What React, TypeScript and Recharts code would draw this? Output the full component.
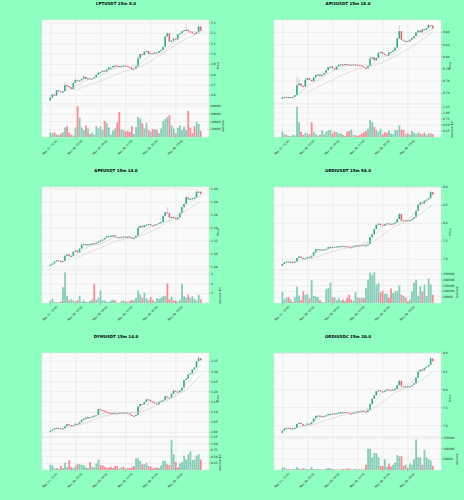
import { Bar, CartesianGrid, Cell, ComposedChart, Line, XAxis, YAxis } from 'recharts';

const tickIdx = [0, 12, 24, 36, 48, 60];
const tickLabels = ['May 27, 22:00', 'May 28, 01:00', 'May 28, 04:00', 'May 28, 07:00', 'May 28, 10:00', 'May 28, 13:00'];
const fastAt = [6, 12, 18, 24, 30, 36, 42, 48, 54, 60, 66, 72];
const slowAt = [12, 18, 24, 30, 36, 42, 48, 54, 60, 66, 72];

const lptClose = [
  4.58, 4.61, 4.60, 4.65, 4.64, 4.63, 4.64, 4.70, 4.69, 4.68, 4.66, 4.72,
  4.75, 4.74, 4.745, 4.76, 4.78, 4.76, 4.765, 4.76, 4.765, 4.775, 4.80, 4.82,
  4.825, 4.84, 4.83, 4.85, 4.87, 4.87, 4.885, 4.89, 4.885, 4.875, 4.885, 4.89,
  4.885, 4.875, 4.87, 4.85, 4.86, 4.88, 4.96, 5.00, 4.99, 5.02, 5.03, 5.00,
  5.01, 5.00, 5.015, 5.01, 5.03, 5.04, 5.07, 5.17, 5.20, 5.12, 5.13, 5.15,
  5.14, 5.19, 5.20, 5.22, 5.23, 5.235, 5.22, 5.215, 5.20, 5.195, 5.21, 5.265, 5.225,
];
const lptVol = [
  12, 10, 12, 7, 5, 9, 12, 25, 28, 12, 6, 4,
  25, 80, 50, 25, 18, 30, 22, 8, 12, 6, 28, 22,
  28, 18, 42, 36, 25, 6, 17, 22, 38, 65, 20, 18,
  15, 16, 13, 28, 8, 26, 52, 48, 36, 22, 36, 18,
  14, 20, 20, 18, 10, 22, 42, 47, 52, 57, 30, 22,
  10, 24, 30, 18, 27, 18, 68, 24, 10, 28, 40, 34, 16,
];
const lptFast = [4.63, 4.69, 4.75, 4.79, 4.86, 4.88, 4.89, 5.00, 5.02, 5.14, 5.21, 5.22];
const lptSlow = [4.65, 4.70, 4.74, 4.79, 4.84, 4.87, 4.93, 5.01, 5.09, 5.16, 5.21];
const lptWicks: [number, number][] = [[7, 4.73], [12, 4.77], [16, 4.80], [42, 4.98], [45, 5.05], [56, 5.21], [65, 5.29], [71, 5.28]];

const apiClose = [
  0.733, 0.734, 0.7335, 0.734, 0.7335, 0.734, 0.737, 0.753, 0.756, 0.752, 0.751, 0.762,
  0.765, 0.762, 0.760, 0.766, 0.770, 0.771, 0.768, 0.770, 0.773, 0.778, 0.783, 0.784,
  0.781, 0.779, 0.784, 0.787, 0.7875, 0.786, 0.788, 0.7875, 0.786, 0.787, 0.7875, 0.787,
  0.7865, 0.786, 0.784, 0.782, 0.781, 0.785, 0.797, 0.799, 0.794, 0.798, 0.806, 0.808,
  0.805, 0.803, 0.802, 0.807, 0.808, 0.810, 0.815, 0.830, 0.842, 0.828, 0.826, 0.826,
  0.825, 0.828, 0.831, 0.834, 0.840, 0.843, 0.840, 0.845, 0.844, 0.847, 0.852, 0.851, 0.846,
];
const apiVol = [
  0.22, 0.12, 0.08, 0.05, 0.03, 0.10, 0.06, 1.27, 0.62, 0.22, 0.08, 0.18,
  0.15, 0.12, 0.62, 0.20, 0.12, 0.06, 0.10, 0.28, 0.12, 0.22, 0.28, 0.30,
  0.15, 0.22, 0.20, 0.15, 0.15, 0.08, 0.05, 0.22, 0.25, 0.32, 0.10, 0.08,
  0.04, 0.08, 0.15, 0.20, 0.25, 0.35, 0.72, 0.62, 0.42, 0.30, 0.22, 0.35,
  0.12, 0.20, 0.18, 0.28, 0.15, 0.12, 0.30, 0.28, 0.48, 0.32, 0.30, 0.12,
  0.18, 0.10, 0.25, 0.18, 0.12, 0.20, 0.15, 0.12, 0.18, 0.10, 0.15, 0.16, 0.12,
];
const apiFast = [0.734, 0.752, 0.764, 0.776, 0.785, 0.787, 0.786, 0.800, 0.806, 0.826, 0.834, 0.846];
const apiSlow = [0.742, 0.752, 0.762, 0.772, 0.780, 0.784, 0.791, 0.801, 0.812, 0.826, 0.841];
const apiWicks: [number, number][] = [[7, 0.768], [8, 0.765], [11, 0.766], [42, 0.801], [46, 0.809], [56, 0.852], [57, 0.836], [70, 0.854]];

const apeClose = [
  1.283, 1.285, 1.288, 1.290, 1.289, 1.287, 1.289, 1.297, 1.299, 1.296, 1.297, 1.303,
  1.305, 1.302, 1.308, 1.314, 1.315, 1.314, 1.3145, 1.315, 1.316, 1.3155, 1.317, 1.319,
  1.3205, 1.322, 1.3245, 1.327, 1.3275, 1.328, 1.3285, 1.326, 1.3245, 1.3255, 1.326, 1.3265,
  1.326, 1.3265, 1.325, 1.324, 1.3245, 1.328, 1.340, 1.343, 1.341, 1.344, 1.345, 1.346,
  1.344, 1.3435, 1.345, 1.346, 1.348, 1.349, 1.358, 1.364, 1.363, 1.356, 1.357, 1.355,
  1.353, 1.356, 1.363, 1.372, 1.377, 1.387, 1.384, 1.385, 1.386, 1.387, 1.396, 1.396, 1.392,
];
const apeVol = [
  0.25, 0.45, 0.10, 0.08, 0.05, 0.15, 1.65, 3.20, 0.75, 0.30, 0.40, 0.25,
  0.15, 0.30, 0.75, 0.15, 0.30, 0.10, 0.10, 0.20, 0.40, 2.00, 0.35, 0.55,
  1.30, 0.30, 0.25, 0.12, 0.10, 0.25, 0.35, 0.30, 0.05, 0.02, 0.20, 0.25,
  0.15, 0.12, 0.20, 0.30, 0.30, 0.55, 1.30, 0.90, 0.55, 1.10, 0.50, 0.30,
  0.60, 0.30, 0.15, 0.50, 0.45, 0.55, 0.70, 0.75, 2.05, 0.40, 0.65, 0.30,
  0.25, 0.15, 0.35, 2.00, 0.70, 0.60, 0.85, 0.55, 0.70, 0.40, 0.25, 0.85, 0.40,
];
const apeFast = [1.287, 1.298, 1.311, 1.315, 1.325, 1.326, 1.328, 1.343, 1.348, 1.356, 1.378, 1.390];
const apeSlow = [1.292, 1.302, 1.309, 1.318, 1.323, 1.326, 1.334, 1.345, 1.3575, 1.369, 1.381];
const apeWicks: [number, number][] = [[42, 1.342], [56, 1.372], [65, 1.389], [70, 1.399]];

const ordiClose = [
  6.87, 6.92, 6.94, 6.93, 6.935, 6.925, 6.94, 7.04, 7.08, 7.04, 7.01, 7.03,
  7.07, 7.05, 7.10, 7.20, 7.28, 7.285, 7.27, 7.27, 7.28, 7.29, 7.34, 7.35,
  7.33, 7.35, 7.36, 7.365, 7.375, 7.37, 7.37, 7.355, 7.34, 7.33, 7.36, 7.385,
  7.39, 7.38, 7.40, 7.39, 7.39, 7.43, 7.62, 7.70, 7.84, 7.96, 7.99, 7.96,
  7.93, 7.98, 8.00, 7.99, 7.97, 8.00, 8.03, 8.12, 8.26, 8.08, 8.09, 8.08,
  8.07, 8.09, 8.12, 8.17, 8.35, 8.52, 8.58, 8.55, 8.63, 8.66, 8.70, 8.87, 8.80,
];
const ordiVol = [
  95, 35, 50, 50, 30, 10, 50, 140, 65, 25, 100, 70,
  75, 40, 195, 60, 55, 50, 25, 10, 5, 120, 130, 175,
  50, 50, 25, 40, 20, 30, 20, 45, 70, 30, 20, 95,
  50, 40, 45, 40, 130, 200, 260, 240, 265, 160, 175, 90,
  105, 80, 80, 45, 125, 85, 100, 105, 150, 70, 60, 45,
  15, 30, 100, 175, 200, 60, 145, 100, 160, 60, 210, 160, 70,
];
const ordiFast = [6.93, 7.03, 7.24, 7.32, 7.36, 7.38, 7.50, 7.95, 8.00, 8.10, 8.48, 8.76];
const ordiSlow = [7.00, 7.10, 7.22, 7.31, 7.36, 7.43, 7.68, 7.93, 8.06, 8.26, 8.53];
const ordiWicks: [number, number][] = [[8, 7.10], [46, 8.02], [56, 8.30], [71, 8.92]];

const dymClose = [
  3.008, 3.014, 3.020, 3.022, 3.019, 3.017, 3.020, 3.030, 3.040, 3.036, 3.032, 3.036,
  3.042, 3.040, 3.050, 3.062, 3.068, 3.072, 3.075, 3.074, 3.078, 3.082, 3.085, 3.115,
  3.110, 3.106, 3.102, 3.098, 3.095, 3.092, 3.096, 3.094, 3.093, 3.097, 3.098, 3.095,
  3.098, 3.092, 3.086, 3.082, 3.080, 3.086, 3.128, 3.140, 3.138, 3.150, 3.163, 3.160,
  3.152, 3.148, 3.142, 3.138, 3.150, 3.155, 3.160, 3.178, 3.172, 3.170, 3.190, 3.205,
  3.200, 3.198, 3.205, 3.220, 3.258, 3.265, 3.285, 3.290, 3.310, 3.320, 3.350, 3.365, 3.355,
];
const dymVol = [
  0.20, 0.18, 0.06, 0.08, 0.05, 0.15, 0.08, 0.28, 0.10, 0.37, 0.10, 0.08,
  0.15, 0.22, 0.22, 0.20, 0.18, 0.10, 0.08, 0.30, 0.12, 0.10, 0.25, 0.40,
  0.18, 0.18, 0.12, 0.08, 0.10, 0.12, 0.08, 0.15, 0.15, 0.05, 0.10, 0.12,
  0.05, 0.08, 0.08, 0.10, 0.15, 0.45, 0.45, 0.35, 0.22, 0.22, 0.28, 0.15,
  0.12, 0.05, 0.08, 0.10, 0.08, 0.18, 0.35, 0.35, 0.22, 0.18, 1.15, 0.60,
  0.30, 0.10, 0.25, 0.30, 0.55, 0.40, 0.60, 0.70, 0.38, 0.40, 0.55, 0.60, 0.40,
];
const dymFast = [3.018, 3.035, 3.068, 3.09, 3.10, 3.096, 3.10, 3.15, 3.155, 3.19, 3.25, 3.335];
const dymSlow = [3.03, 3.05, 3.075, 3.09, 3.096, 3.095, 3.12, 3.15, 3.18, 3.215, 3.285];
const dymWicks: [number, number][] = [[23, 3.122], [59, 3.215], [71, 3.375]];

const usdcClose = [
  6.86, 6.92, 6.94, 6.93, 6.925, 6.93, 6.94, 7.05, 7.08, 7.05, 7.00, 7.02,
  7.06, 7.04, 7.10, 7.20, 7.27, 7.28, 7.27, 7.26, 7.27, 7.29, 7.32, 7.33,
  7.31, 7.34, 7.35, 7.37, 7.375, 7.37, 7.38, 7.36, 7.34, 7.33, 7.36, 7.38,
  7.40, 7.39, 7.41, 7.39, 7.38, 7.44, 7.60, 7.74, 7.84, 7.96, 7.98, 7.95,
  7.93, 7.97, 8.00, 7.99, 7.97, 8.00, 8.02, 8.12, 8.24, 8.09, 8.08, 8.09,
  8.07, 8.09, 8.12, 8.17, 8.33, 8.50, 8.55, 8.53, 8.60, 8.63, 8.68, 8.86, 8.78,
];
const usdcVol = [
  10, 12, 5, 3, 2, 5, 3, 14, 6, 3, 8, 6,
  4, 3, 14, 5, 5, 3, 3, 2, 2, 7, 9, 8,
  4, 3, 2, 2, 2, 5, 3, 7, 6, 2, 3, 6,
  2, 4, 2, 4, 25, 100, 100, 60, 80, 80, 60, 20,
  20, 50, 15, 30, 15, 25, 35, 70, 65, 65, 20, 25,
  10, 30, 25, 50, 143, 60, 60, 25, 95, 60, 50, 45, 20,
];
const usdcFast = [6.93, 7.02, 7.22, 7.31, 7.36, 7.38, 7.50, 7.95, 7.98, 8.10, 8.46, 8.74];
const usdcSlow = [6.98, 7.09, 7.21, 7.31, 7.36, 7.42, 7.66, 7.92, 8.06, 8.24, 8.50];
const usdcWicks: [number, number][] = [[56, 8.28], [71, 8.90]];

const UP = '#2bad8d';
const DOWN = '#f4606c';
const VOL_UP = '#82cdb5';
const VOL_DOWN = '#fb8a96';
const FONT = '"DejaVu Sans", sans-serif';

function buildRows(close: number[], vol: number[], fast: number[], slow: number[], wicks: [number, number][]) {
  return close.map((c, i) => {
    const open = i === 0 ? c - (close[1] - c) : close[i - 1];
    const wick = wicks.find(w => w[0] === i);
    const fastPos = fastAt.indexOf(i);
    const slowPos = slowAt.indexOf(i);
    return {
      i, open, close: c,
      low: Math.min(open, c),
      high: wick ? wick[1] : Math.max(open, c),
      vol: vol[i],
      fast: fastPos >= 0 ? fast[fastPos] : null,
      slow: slowPos >= 0 ? slow[slowPos] : null,
    };
  });
}

const panels = [
  {
    title: 'LPTUSDT 15m 8.0', left: 0, top: 20, height: 117,
    rows: buildRows(lptClose, lptVol, lptFast, lptSlow, lptWicks),
    priceDomain: [4.517, 5.329], priceTicks: [4.6, 4.7, 4.8, 4.9, 5.0, 5.1, 5.2, 5.3], priceFmt: 1,
    volDomain: [0, 86], volTicks: [20, 40, 60, 80], volFmt: (v: number) => `${v}000`, volLabel: 'Volume', volLabelOffset: 9,
  },
  {
    title: 'API3USDT 15m 18.0', left: 232, top: 20, height: 117,
    rows: buildRows(apiClose, apiVol, apiFast, apiSlow, apiWicks),
    priceDomain: [0.7224, 0.8603], priceTicks: [0.74, 0.76, 0.78, 0.80, 0.82, 0.84], priceFmt: 2,
    volDomain: [0, 1.39], volTicks: [0.25, 0.5, 0.75, 1, 1.25], volFmt: (v: number) => v.toFixed(2), volLabel: 'Volume  10⁷', volLabelOffset: 12,
  },
  {
    title: 'APEUSDT 15m 14.0', left: 0, top: 187, height: 116,
    rows: buildRows(apeClose, apeVol, apeFast, apeSlow, apeWicks),
    priceDomain: [1.2749, 1.4031], priceTicks: [1.28, 1.30, 1.32, 1.34, 1.36, 1.38, 1.40], priceFmt: 2,
    volDomain: [0, 3.45], volTicks: [1, 2, 3], volFmt: (v: number) => `${v}`, volLabel: 'Volume  10⁷', volLabelOffset: 12,
  },
  {
    title: 'ORDIUSDT 15m 94.0', left: 232, top: 187, height: 116,
    rows: buildRows(ordiClose, ordiVol, ordiFast, ordiSlow, ordiWicks),
    priceDomain: [6.705, 9.01], priceTicks: [7, 7.5, 8, 8.5, 9], priceFmt: 1,
    volDomain: [0, 284], volTicks: [50, 100, 150, 200, 250], volFmt: (v: number) => `${v}000`, volLabel: 'Volume', volLabelOffset: 7,
  },
  {
    title: 'DYMUSDT 15m 14.0', left: 0, top: 353, height: 117,
    rows: buildRows(dymClose, dymVol, dymFast, dymSlow, dymWicks),
    priceDomain: [2.977, 3.391], priceTicks: [3.0, 3.05, 3.1, 3.15, 3.2, 3.25, 3.3, 3.35], priceFmt: 2,
    volDomain: [0, 1.256], volTicks: [0.25, 0.5, 0.75, 1, 1.25], volFmt: (v: number) => v.toFixed(2), volLabel: 'Volume  10⁷', volLabelOffset: 12,
  },
  {
    title: 'ORDIUSDC 15m 20.0', left: 232, top: 353, height: 117,
    rows: buildRows(usdcClose, usdcVol, usdcFast, usdcSlow, usdcWicks),
    priceDomain: [6.687, 9.01], priceTicks: [7, 7.5, 8, 8.5, 9], priceFmt: 1,
    volDomain: [0, 155], volTicks: [50, 100, 150], volFmt: (v: number) => `${v}000`, volLabel: 'Volume', volLabelOffset: 7,
  },
];

const CHART_W = 232;
const PLOT_RIGHT = 23;
const EDGE = 4; // room above each plot so the top tick label is not clipped
const xPad = { left: 7.5, right: 7 };
const tickStyle = { fontSize: 3, fontFamily: FONT, fill: '#222' };

function Candle(props: any) {
  const { x, y, width, height, payload } = props;
  if (payload == null) return null;
  const span = payload.high - payload.low;
  const ppu = span > 0 ? height / span : 0;
  const top = y + (payload.high - Math.max(payload.open, payload.close)) * ppu;
  const bodyH = Math.max(Math.abs(payload.close - payload.open) * ppu, 1.2);
  const color = payload.close >= payload.open ? UP : DOWN;
  return (
    <g>
      <line x1={x + width / 2} x2={x + width / 2} y1={y} y2={y + height} stroke="#9a9a9a" strokeWidth={0.4} />
      <rect x={x} y={top} width={width} height={bodyH} fill={color} />
    </g>
  );
}

function DateTick(props: any) {
  const { x, y, payload } = props;
  const label = tickLabels[tickIdx.indexOf(payload.value)];
  return (
    <text
      x={x} y={y + 7.5} textAnchor="middle" transform={`rotate(-45 ${x} ${y + 7.5})`}
      fontSize={2.8} fontFamily={FONT} fill="#222"
    >
      {label}
    </text>
  );
}

function Panel({ p }: { p: (typeof panels)[number] }) {
  const priceH = Math.round(p.height * 5 / 7);
  const volH = p.height - priceH;
  return (
    <div style={{ position: 'absolute', left: p.left, top: p.top, width: CHART_W }}>
      <div style={{
        position: 'absolute', left: 0, top: -19, width: CHART_W, textAlign: 'center',
        fontFamily: FONT, fontWeight: 700, fontSize: 4, color: '#000', lineHeight: '5px',
      }}>
        {p.title}
      </div>
      <div style={{ position: 'absolute', left: 0, top: -EDGE }}>
        <ComposedChart
          width={CHART_W} height={priceH + EDGE} data={p.rows}
          margin={{ left: 42, right: 0, top: EDGE, bottom: 0 }} barCategoryGap={0}
        >
          <CartesianGrid stroke="#e2e2e2" strokeWidth={0.5} fill="#fafafa" />
          <XAxis dataKey="i" hide ticks={tickIdx} interval={0} padding={xPad} />
          <YAxis
            orientation="right" width={PLOT_RIGHT} domain={p.priceDomain} ticks={p.priceTicks} interval={0}
            tick={tickStyle} tickSize={1.5} tickMargin={0.5} axisLine={false} tickLine={{ stroke: '#555', strokeWidth: 0.3 }}
            tickFormatter={(v: number) => v.toFixed(p.priceFmt)} allowDataOverflow
            label={{ value: 'Price', angle: -90, position: 'insideRight', offset: 14.5, style: { fontSize: 3, fontFamily: FONT, fill: '#222' } }}
          />
          <Line dataKey="slow" stroke="#c4c4c4" strokeWidth={0.5} dot={false} connectNulls isAnimationActive={false} />
          <Line dataKey="fast" stroke="#c9c9c9" strokeWidth={0.5} dot={false} connectNulls isAnimationActive={false} />
          <Bar dataKey={(d: any) => [d.low, d.high]} barSize={1.6} shape={<Candle />} isAnimationActive={false} />
        </ComposedChart>
      </div>
      <div style={{ position: 'absolute', left: 0, top: priceH - EDGE }}>
        <ComposedChart
          width={CHART_W} height={volH + EDGE + 24} data={p.rows}
          margin={{ left: 42, right: 0, top: EDGE, bottom: 0 }} barCategoryGap={0}
        >
          <CartesianGrid stroke="#e2e2e2" strokeWidth={0.5} fill="#fafafa" />
          <XAxis
            dataKey="i" ticks={tickIdx} interval={0} padding={xPad} height={24} tick={<DateTick />}
            tickSize={1.5} axisLine={false} tickLine={{ stroke: '#555', strokeWidth: 0.3 }}
          />
          <YAxis
            orientation="right" width={PLOT_RIGHT} domain={p.volDomain} ticks={p.volTicks} interval={0}
            tick={tickStyle} tickSize={1.5} tickMargin={0.5} axisLine={false} tickLine={{ stroke: '#555', strokeWidth: 0.3 }}
            tickFormatter={p.volFmt} allowDataOverflow
            label={{ value: p.volLabel, angle: -90, position: 'insideRight', offset: p.volLabelOffset, style: { fontSize: 3, fontFamily: FONT, fill: '#222' } }}
          />
          <Bar dataKey="vol" barSize={1.8} isAnimationActive={false}>
            {p.rows.map(r => (
              <Cell key={r.i} fill={r.close >= r.open ? VOL_UP : VOL_DOWN} />
            ))}
          </Bar>
        </ComposedChart>
      </div>
    </div>
  );
}

export default function App() {
  return (
    <div style={{ position: 'absolute', left: 0, top: 0, width: 464, height: 500, background: '#8fffc1', overflow: 'hidden' }}>
      {panels.map(p => <Panel key={p.title} p={p} />)}
    </div>
  );
}
